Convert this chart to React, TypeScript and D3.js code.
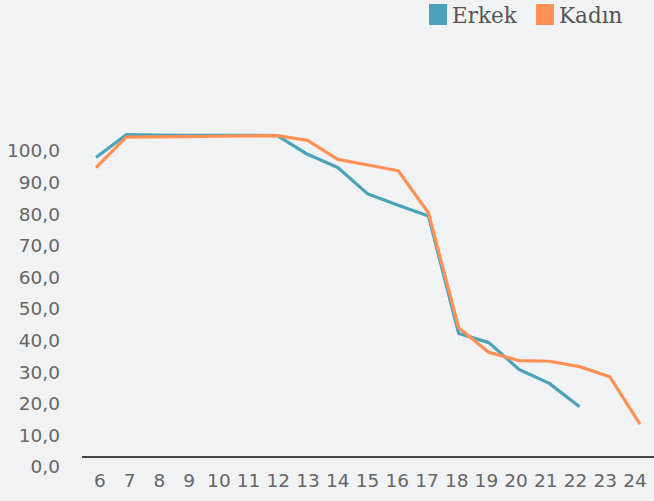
import React from "react";
import * as d3 from "d3";

const ages = ["6","7","8","9","10","11","12","13","14","15","16","17","18","19","20","21","22","23","24"];
const erkek: (number | null)[] = [94.8,102.0,101.9,101.8,101.8,101.8,101.7,95.8,91.6,83.2,79.7,76.3,39.1,36.2,27.7,23.3,15.9,null,null];
const kadin: (number | null)[] = [91.6,101.2,101.3,101.4,101.5,101.6,101.7,100.2,94.2,92.4,90.6,77.3,40.9,33.1,30.5,30.3,28.6,25.4,10.4];
const yTicks = [0,10,20,30,40,50,60,70,80,90,100];
const seriesNames = ["Erkek","Kadın"];
const colors = ["#4aa3b9","#ff9155"];

export default function App() {
  const W = 654, H = 501;
  const x = d3.scalePoint<string>().domain(ages).range([96, 640]);
  const xLab = d3.scalePoint<string>().domain(ages).range([100, 635]);
  const y = d3.scaleLinear().domain([0, 100]).range([457, 141]);
  const line = d3.line<number | null>()
    .defined(d => d != null)
    .x((_, i) => x(ages[i])!)
    .y(d => y(d as number));
  const fmt = (v: number) => v.toFixed(1).replace(".", ",");
  const series = [erkek, kadin];
  const legendX = [429, 536];
  return (
    <svg width={W} height={H} style={{ position: "absolute", left: 0, top: 0, background: "#f1f2f4" }}>
      <rect x={0} y={0} width={W} height={H} fill="#f1f2f4" />
      {yTicks.map(t => (
        <text key={t} x={60} y={y(t) + 10} dy="0.35em" textAnchor="end"
          fontFamily="DejaVu Sans" fontSize={18.5} fill="#666">{fmt(t)}</text>
      ))}
      <line x1={82} x2={W} y1={y(0)} y2={y(0)} stroke="#444" strokeWidth={2} />
      {ages.map(a => (
        <text key={a} x={xLab(a)!} y={481} dy="0.35em" textAnchor="middle"
          fontFamily="DejaVu Sans" fontSize={18.5} fill="#666">{a}</text>
      ))}
      {series.map((s, i) => (
        <path key={i} d={line(s) || ""} fill="none" stroke={colors[i]} strokeWidth={3.2}
          strokeLinejoin="round" />
      ))}
      {seriesNames.map((n, i) => (
        <g key={n}>
          <rect x={legendX[i]} y={4} width={18} height={21} fill={colors[i]} />
          <text x={legendX[i] + 23} y={15} dy="0.35em" fontFamily="DejaVu Serif" fontSize={21.5} fill="#555">{n}</text>
        </g>
      ))}
    </svg>
  );
}
